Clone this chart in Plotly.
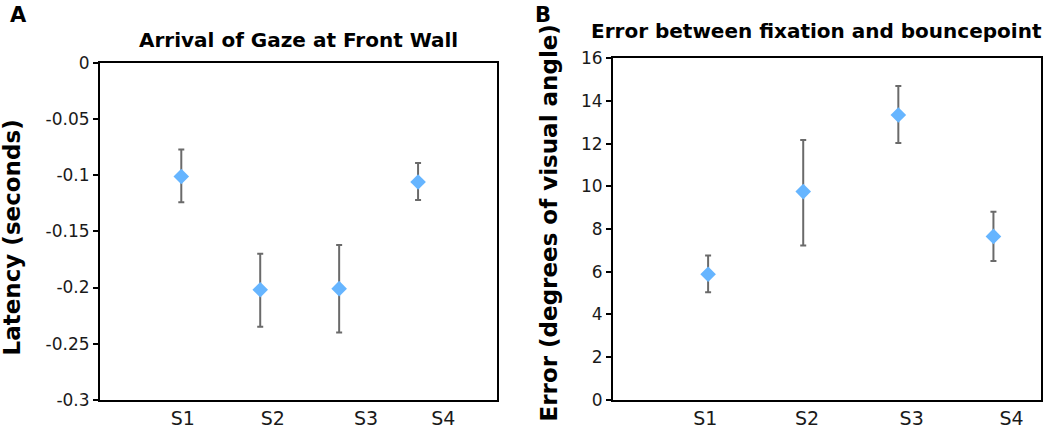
import plotly.graph_objects as go

# ---- data ----
subjects = ["S1", "S2", "S3", "S4"]
subject_x = [1, 2, 3, 4]

latency_mean = [-0.101, -0.202, -0.201, -0.106]
latency_upper = [-0.077, -0.170, -0.162, -0.089]
latency_lower = [-0.124, -0.235, -0.240, -0.122]

error_mean = [5.88, 9.75, 13.34, 7.65]
error_upper = [6.76, 12.17, 14.69, 8.80]
error_lower = [5.04, 7.23, 12.03, 6.50]

latency_ticks = [0, -0.05, -0.1, -0.15, -0.2, -0.25, -0.3]
latency_ticktext = ["0", "-0.05", "-0.1", "-0.15", "-0.2", "-0.25", "-0.3"]
error_ticks = [0, 2, 4, 6, 8, 10, 12, 14, 16]

# tick label positions (labels are offset from markers in the original)
left_label_pos = [1.02, 2.16, 3.34, 4.32]
right_label_pos = [0.97, 2.04, 3.14, 4.19]

W, H = 1050, 429
# vertical correction measured from earlier renders
VOFF, VSCALE = 9.65, 0.955


def px(x):
    return x / W


def py(y):
    return 1 - ((y - VOFF) / VSCALE) / H


MARKER = "#66B5FF"
ERRC = "#6a6a6a"
FONT = "DejaVu Sans"

fig = go.Figure()

fig.add_trace(go.Scatter(
    x=subject_x, y=latency_mean, mode="markers",
    marker=dict(symbol="diamond", size=12, color=MARKER),
    error_y=dict(type="data", symmetric=False,
                 array=[u - m for u, m in zip(latency_upper, latency_mean)],
                 arrayminus=[m - l for m, l in zip(latency_mean, latency_lower)],
                 color=ERRC, thickness=2, width=3),
    xaxis="x", yaxis="y", showlegend=False))

fig.add_trace(go.Scatter(
    x=subject_x, y=error_mean, mode="markers",
    marker=dict(symbol="diamond", size=12, color=MARKER),
    error_y=dict(type="data", symmetric=False,
                 array=[u - m for u, m in zip(error_upper, error_mean)],
                 arrayminus=[m - l for m, l in zip(error_mean, error_lower)],
                 color=ERRC, thickness=2, width=3),
    xaxis="x2", yaxis="y2", showlegend=False))

axis_common = dict(showline=True, linecolor="black", linewidth=2, mirror=True,
                   showgrid=False, zeroline=False)
xfont = dict(family=FONT, size=19, color="#1a1a1a")
yfont = dict(family=FONT, size=17, color="#1a1a1a")

fig.update_layout(
    width=W, height=H,
    margin=dict(l=0, r=0, t=0, b=0),
    paper_bgcolor="white", plot_bgcolor="white",
    xaxis=dict(domain=[px(100), px(497)], range=[-0.03, 5.0],
               tickvals=left_label_pos, ticktext=subjects, ticks="",
               tickfont=xfont, **axis_common),
    yaxis=dict(domain=[py(401), py(63)], range=[-0.3, 0],
               tickvals=latency_ticks, ticktext=latency_ticktext,
               ticks="outside", ticklen=5, tickwidth=1.5, tickcolor="black",
               tickfont=yfont, **axis_common),
    xaxis2=dict(domain=[px(613), px(1041)], range=[0, 4.5], anchor="y2",
                tickvals=right_label_pos, ticktext=subjects, ticks="",
                tickfont=xfont, **axis_common),
    yaxis2=dict(domain=[py(401), py(58)], range=[0, 16], anchor="x2",
                tickvals=error_ticks,
                ticks="outside", ticklen=5, tickwidth=1.5, tickcolor="black",
                tickfont=yfont, **axis_common),
)

bold = dict(family=FONT, color="black")
annots = [
    dict(text="<b>A</b>", x=px(18), y=py(15), font=dict(size=21, **bold)),
    dict(text="<b>B</b>", x=px(543), y=py(15), font=dict(size=21, **bold)),
    dict(text="<b>Arrival of Gaze at Front Wall</b>", x=px(298), y=py(40),
         font=dict(size=20, **bold)),
    dict(text="<b>Error between fixation and bouncepoint</b>", x=px(816), y=py(31),
         font=dict(size=20, **bold)),
    dict(text="<b>Latency (seconds)</b>", x=px(12), y=py(238), textangle=-90,
         font=dict(size=23, **bold)),
    dict(text="<b>Error (degrees of visual angle)</b>", x=px(549), y=py(224),
         textangle=-90, font=dict(size=23, **bold)),
]
for a in annots:
    fig.add_annotation(xref="paper", yref="paper", showarrow=False,
                       xanchor="center", yanchor="middle", **a)

fig.write_html("out.html",
               config={"displayModeBar": False},
               post_script="document.body.style.margin='0';"
                           "document.body.style.overflow='hidden';")
